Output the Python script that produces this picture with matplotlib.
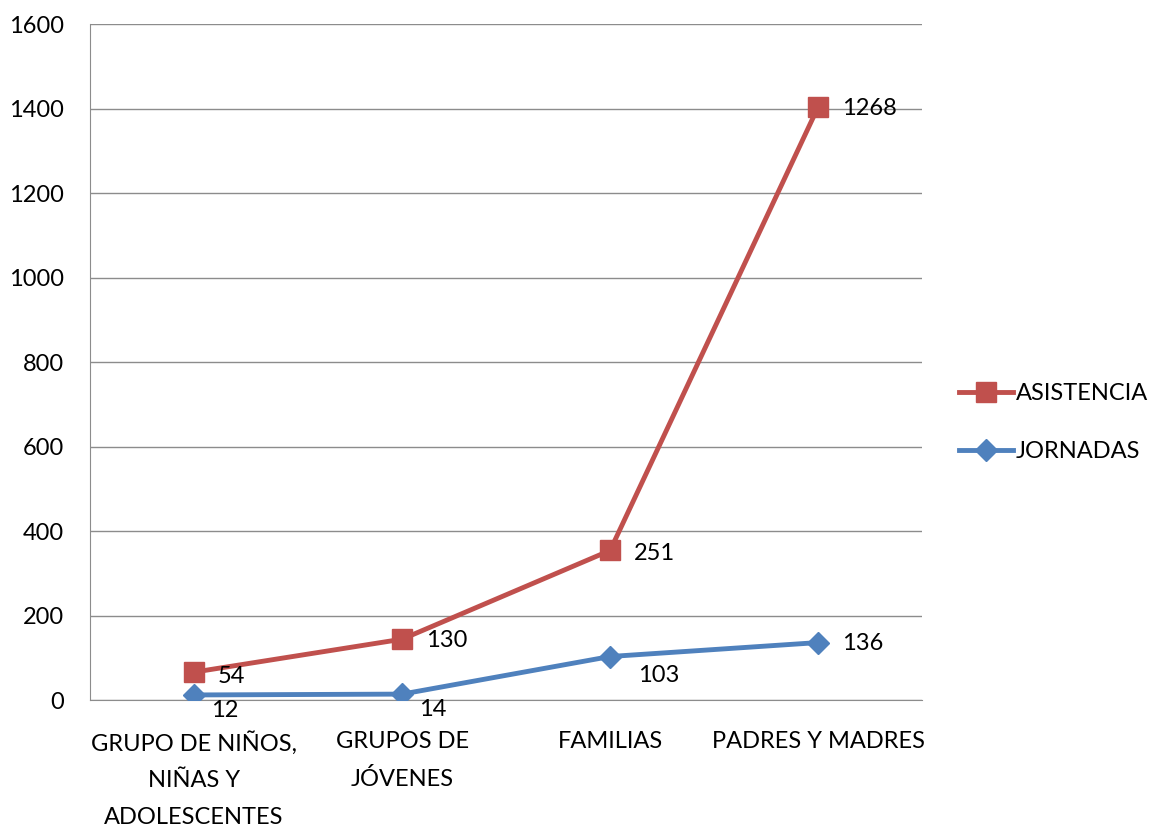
import matplotlib
matplotlib.use("Agg")
import matplotlib.pyplot as plt

plt.rcParams['font.family'] = ['Lato', 'DejaVu Sans']

categorias = ["GRUPO DE NIÑOS,\nNIÑAS Y\nADOLESCENTES", "GRUPOS DE\nJÓVENES",
              "FAMILIAS", "PADRES Y MADRES"]
jornadas = [12, 14, 103, 136]
asistencia = [54, 130, 251, 1268]

# gráfico de líneas apiladas (estilo Excel)
asistencia_apilada = [a + j for a, j in zip(asistencia, jornadas)]

# desplazamientos de las etiquetas (pt)
off_asis = [(17, -3), (17, -1), (17, -2), (17, -1)]
off_jorn = [(12, -11), (12, -11), (20, -14), (17, -1)]

rojo = '#C0504D'
azul = '#4F81BD'

fig = plt.figure(figsize=(11.51, 8.30), dpi=100)
ax = fig.add_axes([0.0782, 0.1566, 0.723, 0.8144])

x = list(range(len(categorias)))
l1, = ax.plot(x, asistencia_apilada, color=rojo, lw=3.5, marker='s', markersize=14,
              label='ASISTENCIA', zorder=3)
l2, = ax.plot(x, jornadas, color=azul, lw=3.5, marker='D', markersize=11,
              label='JORNADAS', zorder=4)

for xi, yi, v, o in zip(x, asistencia_apilada, asistencia, off_asis):
    ax.annotate(str(v), (xi, yi), xytext=o, textcoords='offset points',
                ha='left', va='center', fontsize=17)
for xi, yi, v, o in zip(x, jornadas, jornadas, off_jorn):
    ax.annotate(str(v), (xi, yi), xytext=o, textcoords='offset points',
                ha='left', va='center', fontsize=17)

ax.set_xlim(-0.5, len(categorias) - 0.5)
ax.set_ylim(0, 1600)
ax.set_yticks(range(0, 1601, 200))
ax.set_xticks(x)
ax.set_xticklabels(categorias, fontsize=17, linespacing=1.92)
ax.tick_params(axis='y', labelsize=17, length=0, pad=19)
ax.tick_params(axis='x', length=0, pad=22)
ax.grid(axis='y', color='#8C8C8C', lw=1)
ax.set_axisbelow(True)
for s in ['top', 'right']:
    ax.spines[s].set_visible(False)
for s in ['left', 'bottom']:
    ax.spines[s].set_color('#8C8C8C')

fig.legend(handles=[l1, l2], loc='center left', bbox_to_anchor=(0.833, 0.491),
           frameon=False, fontsize=17, handlelength=2.3, labelspacing=1.55,
           handletextpad=0.1, borderpad=0, borderaxespad=0)

fig.savefig('out.png', dpi=100)
